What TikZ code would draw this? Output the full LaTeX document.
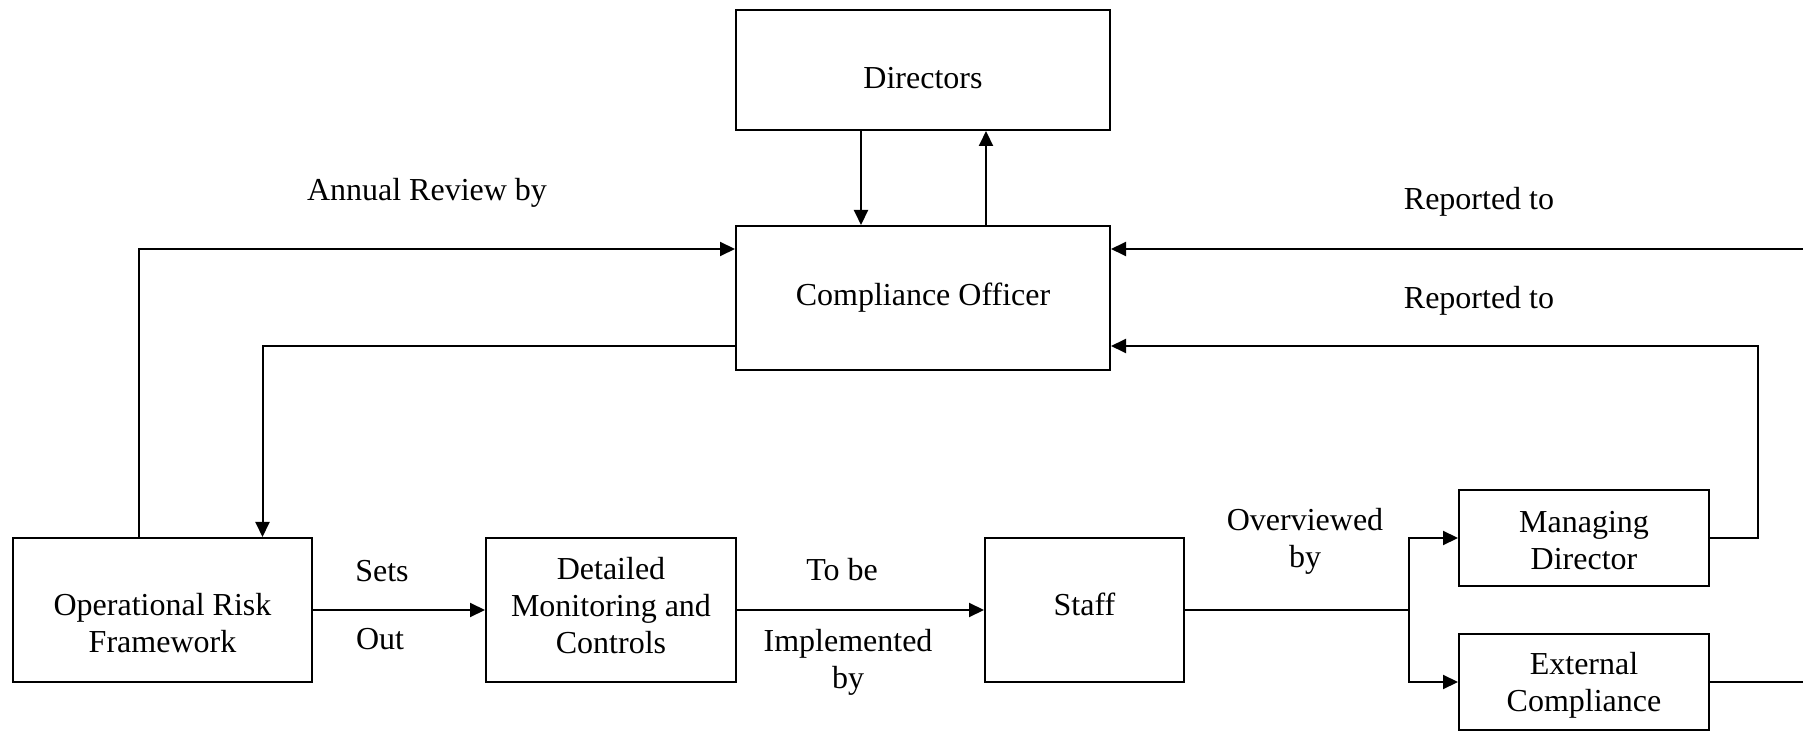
\documentclass[tikz,border=0pt]{standalone}
\usepackage{fontspec}
\setmainfont{Liberation Serif}
\usetikzlibrary{arrows.meta}
\tikzset{
  box/.style={draw, line width=1pt, align=center, inner sep=2pt},
  baseoff/.style={text height=#1, text depth=0pt},
  arr/.style={line width=1pt, -{Triangle[length=7.5pt,width=7pt]}},
  link/.style={line width=1pt},
  lbl/.style={align=center, inner sep=0pt}
}
\begin{document}
\begin{tikzpicture}[x=0.5pt, y=-0.5pt, font=\fontsize{16}{18.5}\selectfont]
\useasboundingbox (0,0) rectangle (1803,731);
% boxes
\node[box, baseoff=18.2pt, minimum width=187pt, minimum height=60pt] (dir) at (923,70) {Directors};
\node[box, minimum width=187pt, minimum height=72pt] (co) at (923,298) {Compliance Officer};
\node[box, baseoff=42.5pt, minimum width=149.5pt, minimum height=72pt] (orf) at (162.5,610) {Operational Risk\\Framework};
\node[box, baseoff=43.7pt, minimum width=125pt, minimum height=72pt] (dmc) at (611,610) {Detailed\\Monitoring and\\Controls};
\node[box, baseoff=5.6pt, minimum width=99.5pt, minimum height=72pt] (staff) at (1084.5,610) {Staff};
\node[box, baseoff=31.8pt, minimum width=125pt, minimum height=48pt] (md) at (1584,538) {Managing\\Director};
\node[box, baseoff=29.5pt, minimum width=125pt, minimum height=48pt] (ec) at (1584,682) {External\\Compliance};
% free ends
\coordinate (split) at (1409,610);
\coordinate (mdr) at (1758,346);
\coordinate (rtop) at (1803,249);
\coordinate (ecout) at (1803,682);
% connectors
\draw[arr] ([xshift=-31pt]dir.south) -- ([xshift=-31pt]co.north);
\draw[arr] ([xshift=31.5pt]co.north) -- ([xshift=31.5pt]dir.south);
\draw[arr] ([xshift=-12pt]orf.north) |- ([yshift=24.5pt]co.west);
\draw[arr] ([yshift=-24pt]co.west) -| ([xshift=50pt]orf.north);
\draw[arr] (orf.east) -- (dmc.west);
\draw[arr] (dmc.east) -- (staff.west);
\draw[link] (staff.east) -- (split);
\draw[arr] (split) |- (md.west);
\draw[arr] (split) |- (ec.west);
\draw[arr] (md.east) -| (mdr) -- ([yshift=-24pt]co.east);
\draw[arr] (rtop) -- ([yshift=24.5pt]co.east);
\draw[link] (ec.east) -- (ecout);
% labels
\node[lbl] (annual) at (427,193) {Annual Review by};
\node[lbl] (rep1) at (1479,201.5) {Reported to};
\node[lbl] (rep2) at (1479,300.5) {Reported to};
\node[lbl] (sets) at (382,571) {Sets};
\node[lbl] (out) at (380,639) {Out};
\node[lbl] (tobe) at (842,570) {To be};
\node[lbl] (impl) at (848,662.5) {Implemented\\by};
\node[lbl] (over) at (1305,541) {Overviewed\\by};
\end{tikzpicture}
\end{document}
